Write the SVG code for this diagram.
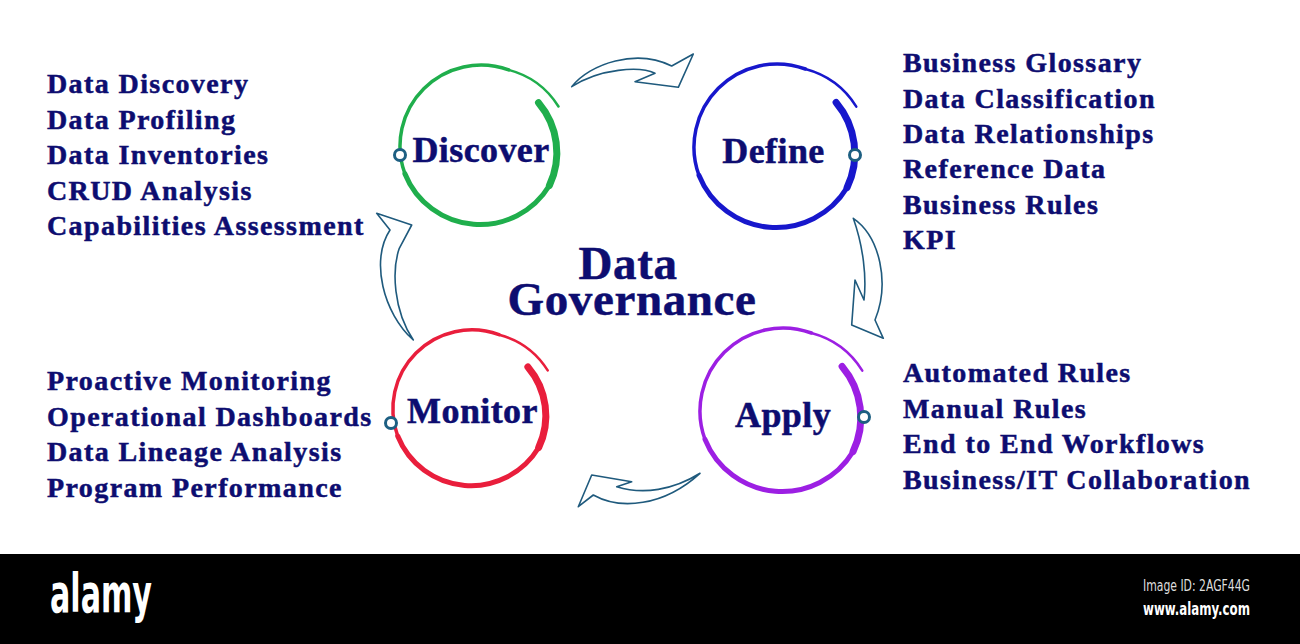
<svg xmlns="http://www.w3.org/2000/svg" width="1300" height="644" viewBox="0 0 1300 644">
<style>
.lbl{font-family:"Liberation Serif","Times New Roman",serif;font-weight:bold;fill:#0d0d70;stroke:#0d0d70;stroke-width:0.5}
.node{font-size:36px;letter-spacing:0.4px;text-anchor:middle}
.item{font-size:28px;letter-spacing:1.4px}
.title{font-size:47px;letter-spacing:0.6px;text-anchor:middle}
.arc{fill:none;stroke-linecap:round}
.ring{fill:#fff;stroke:#1d5f82;stroke-width:3}
.arrow{fill:#fff;stroke:#1f5a7d;stroke-width:1.6;stroke-linejoin:round}
</style>
<rect x="0" y="0" width="1300" height="644" fill="#fff"/>

<g id="connectors">
<path class="arrow" d="M571.7 86.7 C590 63.3 636.7 48.3 671.7 66 L693.3 54 L678.3 87.3 L635 81.7 L655 73.3 C640 66 600 68.3 571.7 86.7 Z"/>
<path class="arrow" d="M853.3 218.3 C880 236.7 890 283.3 875 320 L883.3 338.3 L851.7 325 L855 280 L864 300 C866.7 276.7 863.3 246.7 853.3 218.3 Z"/>
<path class="arrow" d="M700 473.3 C673.3 490 643.3 495 616.7 486.7 L631.7 481.7 L591.7 475 L578.3 506.7 L593.3 495 C620 510 663.3 506.7 700 473.3 Z"/>
<path class="arrow" d="M413.3 340 C383.3 313.3 370 260 390 230 L376.7 213.3 L411.7 225 L399.3 248.3 C391.7 270 393.3 310 413.3 340 Z"/>
</g>

<g id="discover" transform="translate(481,146)">
<g stroke="#1fae4c">
<path class="arc" stroke-width="7" d="M57.5 -43.3 A77 77 0 0 1 68.4 39.5"/>
<path class="arc" stroke-width="5" d="M68.4 39.5 A81 81 0 0 1 -76.1 27.7"/>
<path class="arc" stroke-width="3.5" d="M-76.1 27.7 A81 81 0 0 1 27.7 -76.1"/>
<path class="arc" stroke-width="2.5" d="M27.7 -76.1 A84 84 0 0 1 77.5 -39.5"/>
</g>
<circle class="ring" cx="-81" cy="9" r="5.5"/>
<text class="lbl node" x="0" y="16">Discover</text>
</g>

<g id="define" transform="translate(777,147)">
<g stroke="#1717cc">
<path class="arc" stroke-width="7" d="M59.1 -44.5 A79 79 0 0 1 70.1 40.5"/>
<path class="arc" stroke-width="5" d="M70.1 40.5 A83 83 0 0 1 -78 28.4"/>
<path class="arc" stroke-width="3.5" d="M-78 28.4 A83 83 0 0 1 28.4 -78"/>
<path class="arc" stroke-width="2.5" d="M28.4 -78 A86 86 0 0 1 79.3 -40.4"/>
</g>
<circle class="ring" cx="78" cy="8" r="5.5"/>
<text class="lbl node" x="-3.5" y="16">Define</text>
</g>

<g id="monitor" transform="translate(472,409)">
<g stroke="#e91e3c">
<path class="arc" stroke-width="7" d="M55.9 -42.1 A75 75 0 0 1 66.7 38.5"/>
<path class="arc" stroke-width="5" d="M66.7 38.5 A79 79 0 0 1 -74.3 27"/>
<path class="arc" stroke-width="3.5" d="M-74.3 27 A79 79 0 0 1 27 -74.3"/>
<path class="arc" stroke-width="2.5" d="M27 -74.3 A82 82 0 0 1 75.7 -38.6"/>
</g>
<circle class="ring" cx="-81" cy="14" r="5.5"/>
<text class="lbl node" x="0.5" y="14">Monitor</text>
</g>

<g id="apply" transform="translate(783,411)">
<g stroke="#9c1fe3">
<path class="arc" stroke-width="7" d="M59.1 -44.5 A79 79 0 0 1 70.1 40.5"/>
<path class="arc" stroke-width="5" d="M70.1 40.5 A83 83 0 0 1 -78 28.4"/>
<path class="arc" stroke-width="3.5" d="M-78 28.4 A83 83 0 0 1 28.4 -78"/>
<path class="arc" stroke-width="2.5" d="M28.4 -78 A86 86 0 0 1 79.3 -40.4"/>
</g>
<circle class="ring" cx="81" cy="6" r="5.5"/>
<text class="lbl node" x="0" y="16">Apply</text>
</g>

<g id="title">
<text class="lbl title" x="628" y="279"><tspan x="628" y="279">Data</tspan><tspan x="632" y="315">Governance</tspan></text>
</g>

<g id="discover-items" class="lbl item">
<text x="47" y="93">Data Discovery</text>
<text x="47" y="128.5">Data Profiling</text>
<text x="47" y="164">Data Inventories</text>
<text x="47" y="199.5">CRUD Analysis</text>
<text x="47" y="235">Capabilities Assessment</text>
</g>

<g id="define-items" class="lbl item">
<text x="903" y="72">Business Glossary</text>
<text x="903" y="107.5">Data Classification</text>
<text x="903" y="143">Data Relationships</text>
<text x="903" y="178">Reference Data</text>
<text x="903" y="213.5">Business Rules</text>
<text x="903" y="249">KPI</text>
</g>

<g id="monitor-items" class="lbl item">
<text x="47" y="390">Proactive Monitoring</text>
<text x="47" y="425.5">Operational Dashboards</text>
<text x="47" y="461">Data Lineage Analysis</text>
<text x="47" y="496.5">Program Performance</text>
</g>

<g id="apply-items" class="lbl item">
<text x="903" y="382">Automated Rules</text>
<text x="903" y="417.5">Manual Rules</text>
<text x="903" y="453">End to End Workflows</text>
<text x="903" y="488.5">Business/IT Collaboration</text>
</g>

<g id="watermark-bar">
<rect x="0" y="554" width="1300" height="90" fill="#000"/>
<text x="50" y="612" font-family="'DejaVu Sans Condensed','DejaVu Sans',sans-serif" font-weight="bold" font-size="54" fill="#fff" textLength="102" lengthAdjust="spacingAndGlyphs">alamy</text>
<text x="1143" y="591" font-family="'DejaVu Sans Condensed','DejaVu Sans',sans-serif" font-size="15" fill="#ddd" textLength="107" lengthAdjust="spacingAndGlyphs">Image ID: 2AGF44G</text>
<text x="1143" y="615" font-family="'DejaVu Sans Condensed','DejaVu Sans',sans-serif" font-weight="bold" font-size="17" fill="#fff" textLength="107" lengthAdjust="spacingAndGlyphs">www.alamy.com</text>
</g>
</svg>
